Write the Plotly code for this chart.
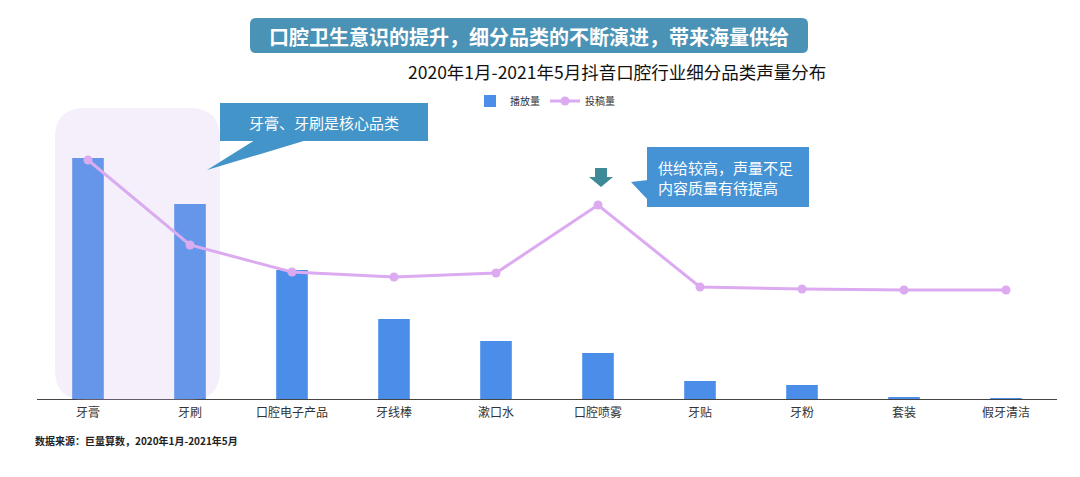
import plotly.graph_objects as go

categories = ["牙膏", "牙刷", "口腔电子产品", "牙线棒", "漱口水",
              "口腔喷雾", "牙贴", "牙粉", "套装", "假牙清洁"]
play_volume = [241, 195, 129, 80, 58, 46, 18, 14, 2, 0.4]
post_volume = [239, 154, 127, 122, 126, 194, 112, 110, 109, 109]

FONT = "Noto Sans CJK SC"

# plot area in pixels of the target picture (for placing the decorations)
L, R, T, B = 37, 1057, 99, 399
PAGE_OFF = 8  # page body margin


def px(x):
    return (x - L) / (R - L)


def py(y):
    return (B - y) / (B - T)


def round_rect(x0, y0, x1, y1, r):
    # rounded rectangle path in paper coords, from pixel corners
    pts = [
        f"M {px(x0 + r)},{py(y0)}",
        f"L {px(x1 - r)},{py(y0)}",
        f"Q {px(x1)},{py(y0)} {px(x1)},{py(y0 + r)}",
        f"L {px(x1)},{py(y1 - r)}",
        f"Q {px(x1)},{py(y1)} {px(x1 - r)},{py(y1)}",
        f"L {px(x0 + r)},{py(y1)}",
        f"Q {px(x0)},{py(y1)} {px(x0)},{py(y1 - r)}",
        f"L {px(x0)},{py(y0 + r)}",
        f"Q {px(x0)},{py(y0)} {px(x0 + r)},{py(y0)}",
        "Z",
    ]
    return " ".join(pts)


def poly(points):
    return "M " + " L ".join(f"{px(x)},{py(y)}" for x, y in points) + " Z"


fig = go.Figure()
fig.add_trace(go.Bar(
    x=categories, y=play_volume, name="播放量",
    marker=dict(color="#4a8eea", line=dict(width=0)),
    width=0.31,
))
fig.add_trace(go.Scatter(
    x=categories, y=post_volume, name="投稿量", mode="lines+markers",
    line=dict(color="#dcaaf0", width=3),
    marker=dict(color="#dcaaf0", size=9),
))

shapes = [
    # highlight box around 牙膏 / 牙刷
    dict(type="path", path=round_rect(55, 108, 220, 400, 30),
         xref="paper", yref="paper", fillcolor="rgba(205,180,230,0.22)",
         line=dict(width=0), layer="above"),
    # title banner
    dict(type="path", path=round_rect(250, 18, 808, 53, 6),
         xref="paper", yref="paper", fillcolor="#4a93b6",
         line=dict(width=0), layer="above"),
    # callout 1
    dict(type="rect", x0=px(220), x1=px(428), y0=py(103), y1=py(141),
         xref="paper", yref="paper", fillcolor="#4394c8",
         line=dict(width=0), layer="above"),
    dict(type="path", path=poly([(255, 140), (307, 140), (207, 170)]),
         xref="paper", yref="paper", fillcolor="#4394c8",
         line=dict(width=0), layer="above"),
    # callout 2
    dict(type="rect", x0=px(647), x1=px(809), y0=py(147), y1=py(207),
         xref="paper", yref="paper", fillcolor="#4592d4",
         line=dict(width=0), layer="above"),
    dict(type="path", path=poly([(631, 182), (648, 180), (648, 200)]),
         xref="paper", yref="paper", fillcolor="#4592d4",
         line=dict(width=0), layer="above"),
    # down arrow
    dict(type="path",
         path=poly([(595, 168), (607, 168), (607, 177), (613, 177),
                    (601, 187), (589, 177), (595, 177)]),
         xref="paper", yref="paper", fillcolor="#3e8a98",
         line=dict(width=0), layer="above"),
]

annotations = [
    dict(text="<b>口腔卫生意识的提升，细分品类的不断演进，带来海量供给</b>",
         x=px(529), y=py(36), font=dict(size=20, color="white", family=FONT)),
    dict(text="2020年1月-2021年5月抖音口腔行业细分品类声量分布",
         x=px(617), y=py(71), font=dict(size=17.5, color="#111111", family=FONT)),
    dict(text="牙膏、牙刷是核心品类",
         x=px(324), y=py(122), font=dict(size=15, color="white", family=FONT)),
    dict(text="供给较高，声量不足<br>内容质量有待提高", align="left",
         x=px(656), y=py(177), xanchor="left",
         font=dict(size=15, color="white", family=FONT)),
    dict(text="<b>数据来源：巨量算数，2020年1月-2021年5月</b>",
         x=px(33), y=py(440), xanchor="left",
         font=dict(size=10, color="#222222", family=FONT)),
]
for a in annotations:
    a.update(xref="paper", yref="paper", showarrow=False)
    a.setdefault("xanchor", "center")
    a.setdefault("yanchor", "middle")

fig.update_layout(
    width=1080, height=477,
    margin=dict(l=L - PAGE_OFF, r=1080 - (R - PAGE_OFF),
                t=T - PAGE_OFF, b=477 - (B - PAGE_OFF)),
    paper_bgcolor="white", plot_bgcolor="white",
    font=dict(family=FONT, color="#333333"),
    showlegend=True,
    legend=dict(orientation="h", x=px(545), y=py(101), xanchor="center",
                yanchor="middle", font=dict(size=10, color="#333333"),
                bgcolor="rgba(0,0,0,0)", itemwidth=30),
    xaxis=dict(showline=True, linecolor="#444444", linewidth=1,
               range=[-0.5, len(categories) - 0.5],
               ticks="", showgrid=False, tickfont=dict(size=12, color="#333333"),
               ticklabelstandoff=3, fixedrange=True),
    yaxis=dict(range=[0, 300], visible=False, showgrid=False, fixedrange=True),
    shapes=shapes,
    annotations=annotations,
)

fig.write_html("out.html")
